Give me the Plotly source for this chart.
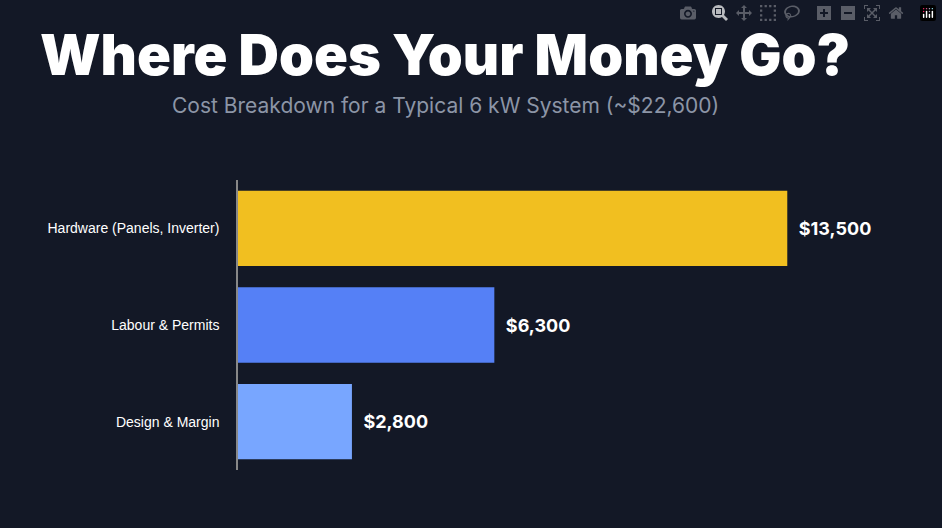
import plotly.graph_objects as go

categories = ["Hardware (Panels, Inverter)", "Labour & Permits", "Design & Margin"]
values = [13500, 6300, 2800]
labels = ["$13,500", "$6,300", "$2,800"]
colors = ["#F1BF20", "#5580F6", "#78A6FF"]

fig = go.Figure(go.Bar(
    y=categories, x=values, orientation="h",
    marker=dict(color=colors, line=dict(width=0)),
    text=["  " + t for t in labels], textposition="outside",
    textfont=dict(color="white", size=18, family="Inter", weight="bold"),
    cliponaxis=False,
))
fig.update_layout(
    width=942, height=528,
    paper_bgcolor="#131826", plot_bgcolor="#131826",
    margin=dict(l=238, r=53, t=180, b=58),
    bargap=0.22, showlegend=False,
    xaxis=dict(range=[0, 16000], visible=False),
    yaxis=dict(autorange="reversed", showline=True, linecolor="#888888", linewidth=1.5,
               ticks="", tickfont=dict(color="white", size=14, family="Arial"),
               ticklabelstandoff=14, showgrid=False),
    annotations=[
        dict(text="Where Does Your Money Go?", xref="paper", yref="paper",
             x=(445-238)/651, y=(528-55-58)/290, xanchor="center", yanchor="middle",
             showarrow=False, font=dict(size=56, color="white", family="Inter", weight=900)),
        dict(text="Cost Breakdown for a Typical 6 kW System (~$22,600)", xref="paper", yref="paper",
             x=(445-238)/651, y=(528-106-58)/290, xanchor="center", yanchor="middle",
             showarrow=False, font=dict(size=21, color="#8C95A6", family="Inter")),
    ],
)
fig.write_html("out.html", post_script="document.body.style.margin='0';")
